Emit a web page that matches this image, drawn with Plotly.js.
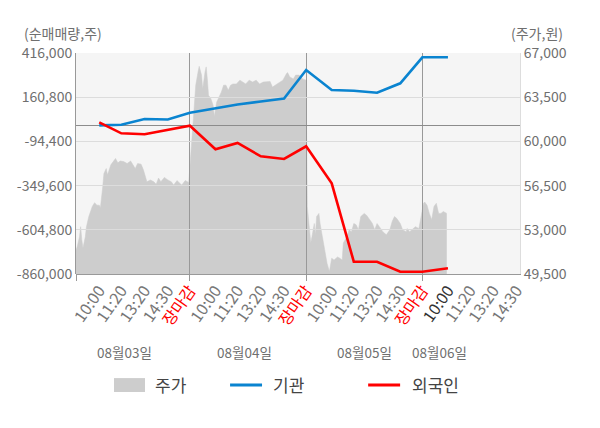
<!DOCTYPE html>
<html>
<head>
<meta charset="utf-8">
<script src="https://cdn.plot.ly/plotly-3.0.1.min.js"></script>
<style>
  html, body { margin: 0; padding: 0; background: #fff; }
  #plot { width: 600px; height: 428px; }
</style>
</head>
<body>
<div id="plot"></div>
<script>
// days and intraday tick labels (each day = 100 slots on the x axis)
var days = ["08월03일", "08월04일", "08월05일", "08월06일"];
var tickTimes = ["10:00", "11:20", "13:20", "14:30", "장마감"];
var tickSlots = [22, 41, 61, 81, 100];

// cumulative net buying (주), one value per tick time, last day only 10:00
var instNet = [-2000, 2000, 34900, 32000, 71300,
               95600, 118600, 136000, 153300, 317800,
               202400, 198300, 186800, 241000, 391200,
               391200];
var foreignNet = [15900, -47600, -53400, -28600, -3800,
                  -140000, -103600, -180400, -196000, -122700,
                  -336300, -789000, -789000, -846700, -846700,
                  -827100];

// stock price (원)
var priceSlot = [
  2, 3, 5, 6, 7, 8, 10, 11, 13, 15, 16, 18, 20, 22, 23, 25, 26, 28, 29, 30,
  32, 34, 36, 38, 40, 43, 46, 49, 51, 53, 55, 58, 60, 62, 63, 66, 69, 71, 73, 75,
  78, 81, 84, 86, 89, 91, 93, 96, 99,
  103, 104, 105, 107, 108, 110, 111, 113, 114, 115, 116, 118, 120, 121, 123,
  125, 127, 129, 131, 133, 135, 137, 140, 143, 146, 148, 151, 154, 157, 160,
  163, 166, 169, 171, 174, 177, 180, 183, 184, 186, 189, 191, 194, 197, 200,
  201, 202, 204, 205, 207, 208, 209, 211, 212, 214, 216, 218, 220, 221, 222,
  224, 227, 229, 231, 232, 235, 237, 239, 241, 243, 245, 247, 250, 252, 254,
  257, 259, 261, 263, 266, 269, 272, 274, 276, 278, 281, 283, 286, 287, 289,
  291, 294, 297,
  301, 302, 304, 306, 308, 310, 312, 314, 316, 318, 321
];
var price = [
  51400, 51650, 52450, 53250, 52200, 51550, 52450, 53250, 54050, 54550,
  54850, 55150, 54950, 54950, 54750, 56400, 57450, 57850, 57350, 57600,
  58150, 58400, 58650, 58300, 58450, 58400, 58250, 58450, 58150, 57850,
  58250, 58200, 57750, 57200, 56800, 56950, 56800, 56600, 57100, 56800,
  57150, 56950, 56800, 56550, 56900, 56700, 56550, 56900, 56750,
  61800, 63400, 64450, 65500, 65950, 65250, 64150, 65500, 65900, 64950,
  63650, 63400, 62850, 61950, 63100, 63500, 63900, 64450, 64450, 64050,
  64450, 64550, 64550, 64850, 64700, 64550, 64850, 64700, 64850, 64550,
  64700, 64750, 64750, 64300, 64500, 64650, 64850, 65350, 65450, 65100,
  64950, 65250, 65250, 64950, 64850,
  54850, 53800, 51950, 52450, 53500, 52600, 54050, 54300, 53500, 52450,
  51400, 50350, 49700, 50100, 50750, 50600, 50850, 50750, 50600, 51950,
  52450, 53000, 52850, 53500, 53400, 53000, 54050, 54300, 54150, 53900,
  53500, 53000, 53500, 53250, 52850, 52600, 53000, 53650, 54050, 53900,
  53500, 53000, 52850, 53100, 52850, 53000, 53250, 53100,
  55100, 55200, 54950, 54300, 53800, 54850, 55100, 54300, 54300, 54450, 54300
];

var leftTicks = [-860000, -604800, -349600, -94400, 160800, 416000];
var rightTicks = [49500, 53000, 56500, 60000, 63500, 67000];

var FONT = "Noto Sans CJK KR, Noto Sans, sans-serif";
var GREY = "#6f6f6f";

function fmt(v) { return v.toLocaleString("en-US"); }

// x positions of the net-buying points
var lineX = [];
for (var d = 0; d < days.length; d++) {
  for (var t = 0; t < tickSlots.length; t++) {
    if (lineX.length < instNet.length) lineX.push(d * 100 + tickSlots[t]);
  }
}

// x tick labels: all days, last day stops before 장마감
var tickVals = [], tickText = [];
for (var d = 0; d < days.length; d++) {
  var n = d === days.length - 1 ? 4 : tickTimes.length;
  for (var t = 0; t < n; t++) {
    tickVals.push(d * 100 + tickSlots[t]);
    var label = tickTimes[t];
    if (label === "장마감") label = '<span style="color:#ff0000">' + label + '</span>';
    else if (d === days.length - 1 && t === 0) label = '<span style="color:#333333">' + label + '</span>';
    tickText.push(label);
  }
}

var priceTrace = {
  x: priceSlot, y: price,
  xaxis: "x", yaxis: "y",
  type: "scatter", mode: "lines",
  fill: "tozeroy", fillcolor: "#cdcdcd",
  line: { color: "#cdcdcd", width: 0.5 },
  name: "주가", hoverinfo: "skip"
};
var instTrace = {
  x: lineX, y: instNet,
  xaxis: "x2", yaxis: "y2",
  type: "scatter", mode: "lines",
  line: { color: "#0a84d0", width: 2.6 },
  name: "기관"
};
var foreignTrace = {
  x: lineX, y: foreignNet,
  xaxis: "x2", yaxis: "y2",
  type: "scatter", mode: "lines",
  line: { color: "#ff0000", width: 2.6 },
  name: "외국인"
};

var xRange = [2, 384];

// day captions under the time labels
var dayPos = [44, 147, 250, 315];
var annotations = days.map(function (txt, i) {
  return {
    text: txt, xref: "x", yref: "paper", x: dayPos[i], y: -0.353,
    yanchor: "middle", showarrow: false,
    font: { family: FONT, size: 13.5, color: GREY }
  };
});
annotations.push(
  { text: "(순매매량,주)", xref: "paper", yref: "paper", x: -0.122, y: 1.09,
    xanchor: "left", yanchor: "middle", showarrow: false,
    font: { family: FONT, size: 14, color: GREY } },
  { text: "(주가,원)", xref: "paper", yref: "paper", x: 0.975, y: 1.09,
    xanchor: "left", yanchor: "middle", showarrow: false,
    font: { family: FONT, size: 14, color: GREY } },
  { text: "주가", xref: "paper", yref: "paper", x: 0.173, y: -0.502,
    xanchor: "left", yanchor: "middle", showarrow: false,
    font: { family: FONT, size: 17, color: "#444" } },
  { text: "기관", xref: "paper", yref: "paper", x: 0.439, y: -0.502,
    xanchor: "left", yanchor: "middle", showarrow: false,
    font: { family: FONT, size: 17, color: "#444" } },
  { text: "외국인", xref: "paper", yref: "paper", x: 0.752, y: -0.502,
    xanchor: "left", yanchor: "middle", showarrow: false,
    font: { family: FONT, size: 17, color: "#444" } }
);

var shapes = [
  // plot background (drawn below both stacked subplots)
  { type: "rect", xref: "paper", yref: "paper", x0: 0, x1: 1, y0: 0, y1: 1,
    fillcolor: "#f5f5f5", line: { width: 0 }, layer: "below" },
  // legend keys
  { type: "rect", xref: "paper", yref: "paper", x0: 0.0856, x1: 0.1554, y0: -0.534, y1: -0.471,
    fillcolor: "#cdcdcd", line: { width: 0 } },
  { type: "line", xref: "paper", yref: "paper", x0: 0.347, x1: 0.419, y0: -0.502, y1: -0.502,
    line: { color: "#0a84d0", width: 3 } },
  { type: "line", xref: "paper", yref: "paper", x0: 0.658, x1: 0.730, y0: -0.502, y1: -0.502,
    line: { color: "#ff0000", width: 3 } }
];

var layout = {
  width: 600, height: 428,
  margin: { l: 76, r: 80, t: 53, b: 154 },
  paper_bgcolor: "#ffffff",
  plot_bgcolor: "rgba(0,0,0,0)",
  font: { family: FONT, color: GREY },
  showlegend: false,
  xaxis: {
    range: xRange, domain: [0, 1], anchor: "y",
    tickmode: "array", tickvals: tickVals, ticktext: tickText,
    tickangle: -55, ticks: "",
    tickfont: { family: FONT, size: 16, color: "#777" },
    showgrid: false, zeroline: false,
    showline: true, linecolor: "#999", linewidth: 1
  },
  yaxis: {
    range: [rightTicks[0], rightTicks[rightTicks.length - 1]],
    domain: [0, 1], anchor: "x", side: "right",
    tickmode: "array", tickvals: rightTicks, ticktext: rightTicks.map(fmt),
    tickfont: { family: FONT, size: 14, color: GREY },
    showgrid: false, zeroline: false, ticks: "",
    showline: true, linecolor: "#dddddd", linewidth: 1
  },
  xaxis2: {
    matches: "x", range: xRange, domain: [0, 1], anchor: "y2",
    tickmode: "array", tickvals: [2, 100, 200, 300],
    showticklabels: false, ticks: "outside", ticklen: 6, tickcolor: "#999",
    showgrid: true, gridcolor: "#999", gridwidth: 1,
    zeroline: false, showline: false
  },
  yaxis2: {
    range: [leftTicks[0], leftTicks[leftTicks.length - 1]],
    domain: [0, 1], anchor: "x2", side: "left",
    tickmode: "array", tickvals: leftTicks, ticktext: leftTicks.map(fmt),
    tickfont: { family: FONT, size: 14, color: GREY },
    showgrid: true, gridcolor: "#dcdcdc", gridwidth: 1,
    zeroline: true, zerolinecolor: "#8c8c8c", zerolinewidth: 1,
    ticks: "", showline: true, linecolor: "#999", linewidth: 1
  },
  annotations: annotations,
  shapes: shapes
};

Plotly.newPlot("plot", [priceTrace, instTrace, foreignTrace], layout,
  { staticPlot: true, displayModeBar: false });
</script>
</body>
</html>
